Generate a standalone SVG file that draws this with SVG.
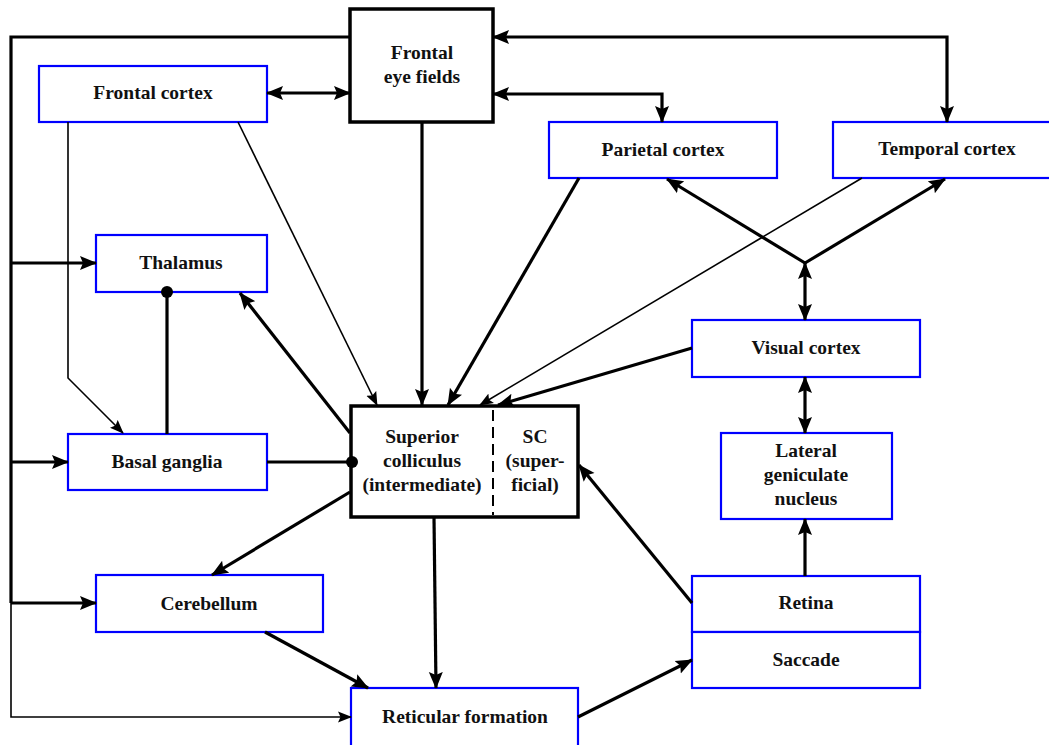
<svg xmlns="http://www.w3.org/2000/svg" width="1049" height="745" viewBox="0 0 1049 745">
<style>
.bb{fill:#fff;stroke:#0000ff;stroke-width:2.2}
.kb{fill:#fff;stroke:#000;stroke-width:3.5}
.th{fill:none;stroke:#000;stroke-width:3.2}
.tn{fill:none;stroke:#000;stroke-width:1.6}
</style>
<defs>
<marker id="a" markerUnits="userSpaceOnUse" markerWidth="17" markerHeight="15" refX="16" refY="7.5" orient="auto-start-reverse" viewBox="0 0 17 15"><path d="M0,0.5 L17,7.5 L0,14.5 L3,7.5 z" fill="#000"/></marker>
<marker id="s" markerUnits="userSpaceOnUse" markerWidth="14" markerHeight="12" refX="13" refY="6" orient="auto-start-reverse" viewBox="0 0 14 12"><path d="M0,0.5 L14,6 L0,11.5 L2.5,6 z" fill="#000"/></marker>
<marker id="d" markerUnits="userSpaceOnUse" markerWidth="14" markerHeight="14" refX="7" refY="7" viewBox="0 0 14 14"><circle cx="7" cy="7" r="6" fill="#000"/></marker>
</defs>
<rect width="1049" height="745" fill="#fff"/>
<g font-family="'Liberation Serif', 'DejaVu Serif', serif" font-weight="bold" font-size="19.5" fill="#111" text-anchor="middle">
<g id="fef"><rect class="kb" x="350" y="9" width="143" height="113"/><text x="422" y="59">Frontal</text><text x="422" y="83">eye fields</text></g>
<g id="frontal-cortex"><rect class="bb" x="39" y="66" width="228" height="56"/><text x="153" y="99">Frontal cortex</text></g>
<g id="parietal-cortex"><rect class="bb" x="549" y="122" width="228" height="56"/><text x="663" y="156">Parietal cortex</text></g>
<g id="temporal-cortex"><rect class="bb" x="833" y="122" width="228" height="56"/><text x="947" y="155">Temporal cortex</text></g>
<g id="thalamus"><rect class="bb" x="96" y="235" width="171" height="57"/><text x="181" y="269">Thalamus</text></g>
<g id="basal-ganglia"><rect class="bb" x="68" y="434" width="199" height="56"/><text x="167" y="468">Basal ganglia</text></g>
<g id="superior-colliculus"><rect class="kb" x="351" y="406" width="227" height="111"/><line x1="493" y1="410" x2="493" y2="515" stroke="#000" stroke-width="2" stroke-dasharray="11,6"/>
<text x="422" y="443">Superior</text><text x="422" y="467">colliculus</text><text x="422" y="491">(intermediate)</text>
<text x="535" y="443">SC</text><text x="535" y="467">(super-</text><text x="535" y="491">ficial)</text></g>
<g id="visual-cortex"><rect class="bb" x="692" y="320" width="228" height="57"/><text x="806" y="354">Visual cortex</text></g>
<g id="lgn"><rect class="bb" x="721" y="433" width="171" height="86"/><text x="806" y="457">Lateral</text><text x="806" y="481">geniculate</text><text x="806" y="505">nucleus</text></g>
<g id="cerebellum"><rect class="bb" x="96" y="575" width="227" height="57"/><text x="209" y="610">Cerebellum</text></g>
<g id="retina"><rect class="bb" x="692" y="576" width="228" height="56"/><text x="806" y="609">Retina</text></g>
<g id="saccade"><rect class="bb" x="692" y="632" width="228" height="56"/><text x="806" y="666">Saccade</text></g>
<g id="reticular-formation"><rect class="bb" x="351" y="688" width="227" height="60"/><text x="465" y="723">Reticular formation</text></g>
</g>
<g id="connectors">
<polyline class="th" points="350,37 11,37 11,603"/>
<polyline class="tn" points="11,601 11,717 351,717" marker-end="url(#s)"/>
<line class="th" x1="11" y1="263" x2="96" y2="263" marker-end="url(#a)"/>
<line class="th" x1="11" y1="462" x2="68" y2="462" marker-end="url(#a)"/>
<line class="th" x1="11" y1="603" x2="96" y2="603" marker-end="url(#a)"/>
<line class="th" x1="267" y1="93" x2="350" y2="93" marker-start="url(#a)" marker-end="url(#a)"/>
<polyline class="th" points="493,37 947,37 947,122" marker-start="url(#a)" marker-end="url(#a)"/>
<polyline class="th" points="493,94 662,94 662,122" marker-start="url(#a)" marker-end="url(#a)"/>
<polyline class="tn" points="68,122 68,378 123,433" marker-end="url(#s)"/>
<line class="tn" x1="238" y1="122" x2="377" y2="405" marker-end="url(#s)"/>
<line class="th" x1="422" y1="123" x2="422" y2="405" marker-end="url(#a)"/>
<line class="th" x1="579" y1="178" x2="448" y2="405" marker-end="url(#a)"/>
<line class="tn" x1="862" y1="178" x2="480" y2="405" marker-end="url(#s)"/>
<line class="th" x1="692" y1="348" x2="498" y2="405" marker-end="url(#a)"/>
<line class="th" x1="805" y1="263" x2="667" y2="179" marker-end="url(#a)"/>
<line class="th" x1="805" y1="263" x2="945" y2="179" marker-end="url(#a)"/>
<line class="th" x1="805" y1="263" x2="805" y2="320" marker-start="url(#a)" marker-end="url(#a)"/>
<line class="th" x1="805" y1="377" x2="805" y2="433" marker-start="url(#a)" marker-end="url(#a)"/>
<line class="th" x1="805" y1="576" x2="805" y2="519" marker-end="url(#a)"/>
<line class="th" x1="692" y1="603" x2="579" y2="465" marker-end="url(#a)"/>
<line class="th" x1="578" y1="717" x2="692" y2="660" marker-end="url(#a)"/>
<line class="th" x1="434" y1="517" x2="436" y2="688" marker-end="url(#a)"/>
<line class="th" x1="265" y1="632" x2="368" y2="688" marker-end="url(#a)"/>
<line class="th" x1="350" y1="492" x2="212" y2="575" marker-end="url(#a)"/>
<line class="th" x1="350" y1="433" x2="240" y2="293" marker-end="url(#a)"/>
<line class="th" x1="167" y1="434" x2="167" y2="292" marker-end="url(#d)"/>
<line class="th" x1="267" y1="462" x2="352" y2="462" marker-end="url(#d)"/>
</g>
</svg>
